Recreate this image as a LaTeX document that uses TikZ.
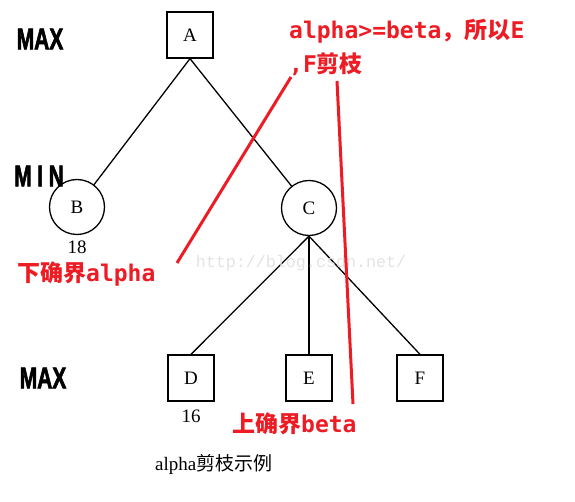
\documentclass[tikz,border=0pt]{standalone}
\usepackage{fontspec}
\setmainfont{Liberation Serif}
\newfontfamily\cjk{Noto Sans CJK SC}
\newfontfamily\latinmono{DejaVu Sans Mono}
\newfontfamily\levelfont[FakeBold=2.5]{Liberation Sans Bold}
\newfontfamily\wmfont{Liberation Mono}
\usetikzlibrary{positioning}
\definecolor{markred}{RGB}{237,28,36}

\begin{document}
\begin{tikzpicture}[
    x=1pt, y=-1pt,
    on grid,
    maxnode/.style={rectangle, draw=black, line width=1.3pt, minimum size=46pt, inner sep=0pt, font=\fontsize{19}{19}\selectfont},
    minnode/.style={circle, draw=black, line width=1.3pt, minimum size=55pt, inner sep=0pt, font=\fontsize{19}{19}\selectfont},
    value/.style={font=\fontsize{19}{19}\selectfont, inner sep=0pt},
    level/.style={font=\levelfont\fontsize{30}{30}\selectfont, inner sep=0pt},
    note/.style={text=markred, font=\bfseries\fontsize{23}{34}\selectfont, inner sep=0pt, align=left},
    edge/.style={line width=1.3pt},
    cut/.style={draw=markred, line width=3pt}
]
\useasboundingbox (0,0) rectangle (575,502);

\node[maxnode] (A) at (190,35) {A};
\node[minnode, below left=172pt and 113pt of A] (B) {B};
\node[minnode, below right=173pt and 119pt of A] (C) {C};
\node[maxnode, below left=170pt and 118pt of C] (D) {D};
\node[maxnode, below=170pt of C] (E) {E};
\node[maxnode, below right=170pt and 111pt of C] (F) {F};

\node[value, below=40pt of B] (vB) {18};
\node[value, below=38pt of D] (vD) {16};

\node[level] (lmax1) at (40,39) {\scalebox{0.7}[1]{MAX}};
\node[level] (lmin) at (39,176) {\scalebox{0.7}[1]{M\hspace{8pt}I\hspace{8pt}N}};
\node[level] (lmax2) at (43,378) {\scalebox{0.7}[1]{MAX}};

\draw[edge] (A.south) -- (B);
\draw[edge] (A.south) -- (C);
\draw[edge] (C.south) -- (D.north);
\draw[edge] (C.south) -- (E.north);
\draw[edge] (C.south) -- (F.north);

\node[text=gray!22, font=\wmfont\fontsize{16.7}{16.7}\selectfont, inner sep=0pt] (wm) at (301,263) {http://blog.csdn.net/};

\coordinate (cut1top) at (291,77);
\coordinate (cut1bot) at (177,263);
\coordinate (cut2top) at (337,81);
\coordinate (cut2bot) at (353,404);
\draw[cut] (cut1top) -- (cut1bot);
\draw[cut] (cut2top) -- (cut2bot);

\node[note, anchor=north west] (prune) at (289,19) {{\latinmono alpha>=beta}{\cjk ，所以}{\latinmono E}\\{\latinmono ,F}{\cjk 剪枝}};
\node[note, anchor=west] (lower) at (17,274) {{\cjk 下确界}{\latinmono alpha}};
\node[note, anchor=west] (upper) at (232,424) {{\cjk 上确界}{\latinmono beta}};

\node[font=\fontsize{19}{19}\selectfont, inner sep=0pt, anchor=west] (caption) at (155,465) {alpha{\cjk 剪枝示例}};
\end{tikzpicture}
\end{document}
